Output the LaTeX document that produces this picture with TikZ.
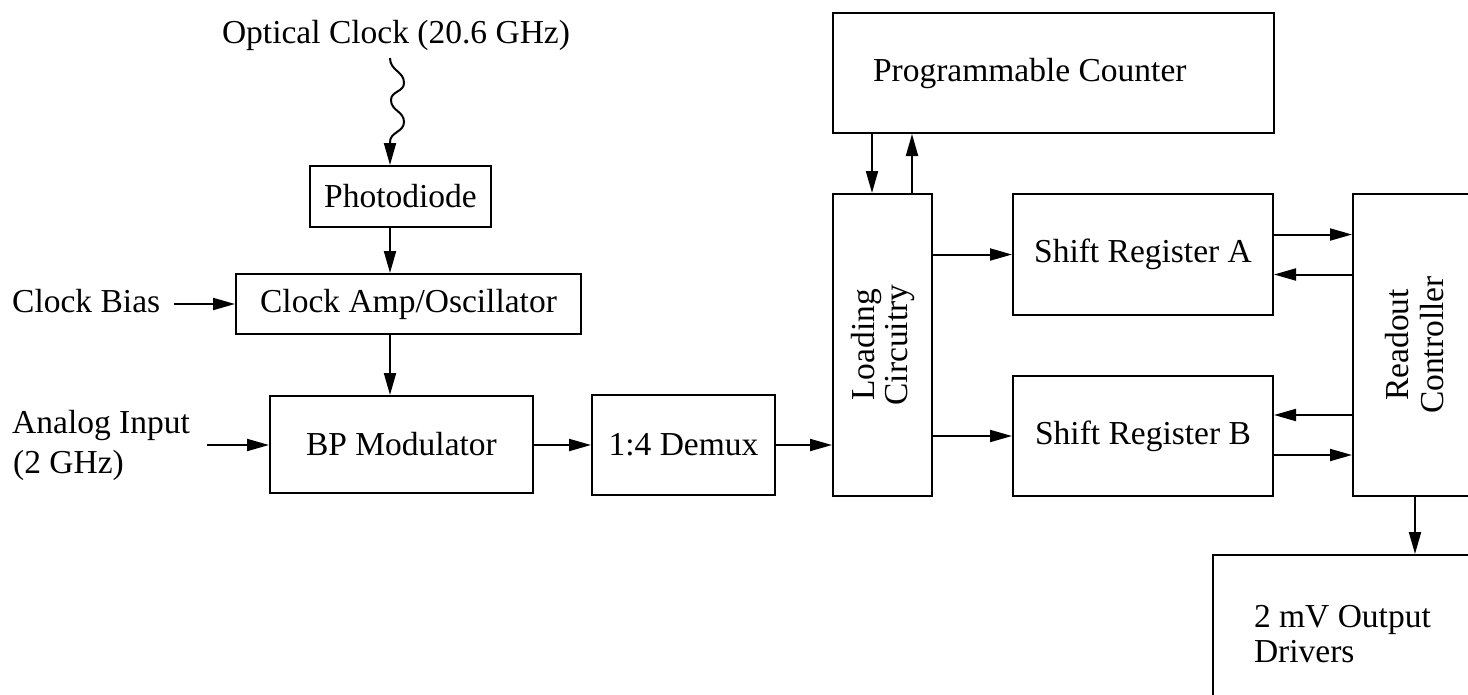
\documentclass[tikz,border=0pt]{standalone}
\usepackage{fontspec}
\setmainfont{Liberation Serif}
\usetikzlibrary{arrows.meta}
\newcommand\txtsize[1]{\fontsize{33.5}{#1}\selectfont}
\begin{document}
\begin{tikzpicture}[x=1pt,y=-1pt,
  box/.style={draw, line width=2pt, inner sep=0pt, anchor=north west, font=\txtsize{40}},
  lbl/.style={inner sep=0pt, font=\txtsize{40}},
  arr/.style={line width=2pt, -{Triangle[length=22pt,width=12pt]}}]
\clip (0,0) rectangle (1468,694);

% blocks
\node[box, minimum width=181, minimum height=61] (pd) at (309,165) {Photodiode};
\node[box, minimum width=345, minimum height=60] (camp) at (235,273) {Clock Amp/Oscillator};
\node[box, minimum width=263, minimum height=97] (bp) at (269,395) {BP Modulator};
\node[box, minimum width=183, minimum height=100] (dmx) at (591,394) {1:4 Demux};
\node[box, minimum width=99, minimum height=302] (ld) at (832,193) {};
\node[rotate=90, align=center, inner sep=0pt, font=\txtsize{33}] at (ld.center) {Loading\\Circuitry};
\node[box, minimum height=120, text width=361, inner xsep=40, align=flush left] (pc) at (832,12) {Programmable Counter};
\node[box, minimum width=260, minimum height=121] (sra) at (1012,193) {Shift Register A};
\node[box, minimum width=260, minimum height=120] (srb) at (1012,375) {Shift Register B};
\node[box, minimum width=124, minimum height=302] (rc) at (1352,193) {};
\node[rotate=90, align=center, inner sep=0pt, font=\txtsize{35}] at (rc.center) {Readout\\Controller};
\node[box, minimum height=158, text width=200, inner xsep=41, align=flush left, font=\txtsize{35}] (drv) at (1212,554) {2 mV Output\\Drivers};

% inputs
\node[lbl, anchor=base] (oc) at (396,43) {Optical Clock (20.6 GHz)};
\coordinate (optin) at (390,58);
\node[lbl, anchor=base west] (cb) at (12,312) {Clock Bias};
\node[lbl, anchor=base west, align=left] (ai) at (12,473) {Analog Input\\\hspace{1pt}(2 GHz)};

% optical clock feed
\draw[arr] (optin) .. controls +(0,13) and +(0,-12) .. ++(14,25)
  .. controls +(0,9) and +(0,-9) .. ++(-13,17)
  .. controls +(0,11) and +(0,-11) .. ++(13,22)
  .. controls +(0,10) and +(0,-10) .. ++(-14,20)
  -- (pd.north -| optin);

% clock path
\draw[arr] (pd.south -| optin) -- (camp.north -| optin);
\draw[arr] (camp.south -| optin) -- (bp.north -| optin);
\draw[arr] (cb.east |- camp.west) ++(14,0) -- (camp.west);

% signal path
\draw[arr] (ai.east |- dmx.west) ++(17,0) -- (bp.west |- dmx.west);
\draw[arr] (bp.east |- dmx.west) -- (dmx.west);
\draw[arr] (dmx.east) -- (ld.west |- dmx.east);
\draw[arr] (ld.east |- sra.west) -- (sra.west);
\draw[arr] (ld.east |- srb.west) -- (srb.west);

% counter handshake
\draw[arr] ([xshift=40pt]pc.south west) -- ([xshift=40pt]ld.north west);
\draw[arr] ([xshift=80pt]ld.north west) -- ([xshift=80pt]pc.south west);

% readout handshake
\draw[arr] ([yshift=20pt]sra.east) -- ([yshift=20pt]sra.east -| rc.west);
\draw[arr] ([yshift=-20pt]sra.east -| rc.west) -- ([yshift=-20pt]sra.east);
\draw[arr] ([yshift=21pt]srb.east -| rc.west) -- ([yshift=21pt]srb.east);
\draw[arr] ([yshift=-19pt]srb.east) -- ([yshift=-19pt]srb.east -| rc.west);
\draw[arr] (rc.south) -- (drv.north -| rc.south);
\end{tikzpicture}
\end{document}
